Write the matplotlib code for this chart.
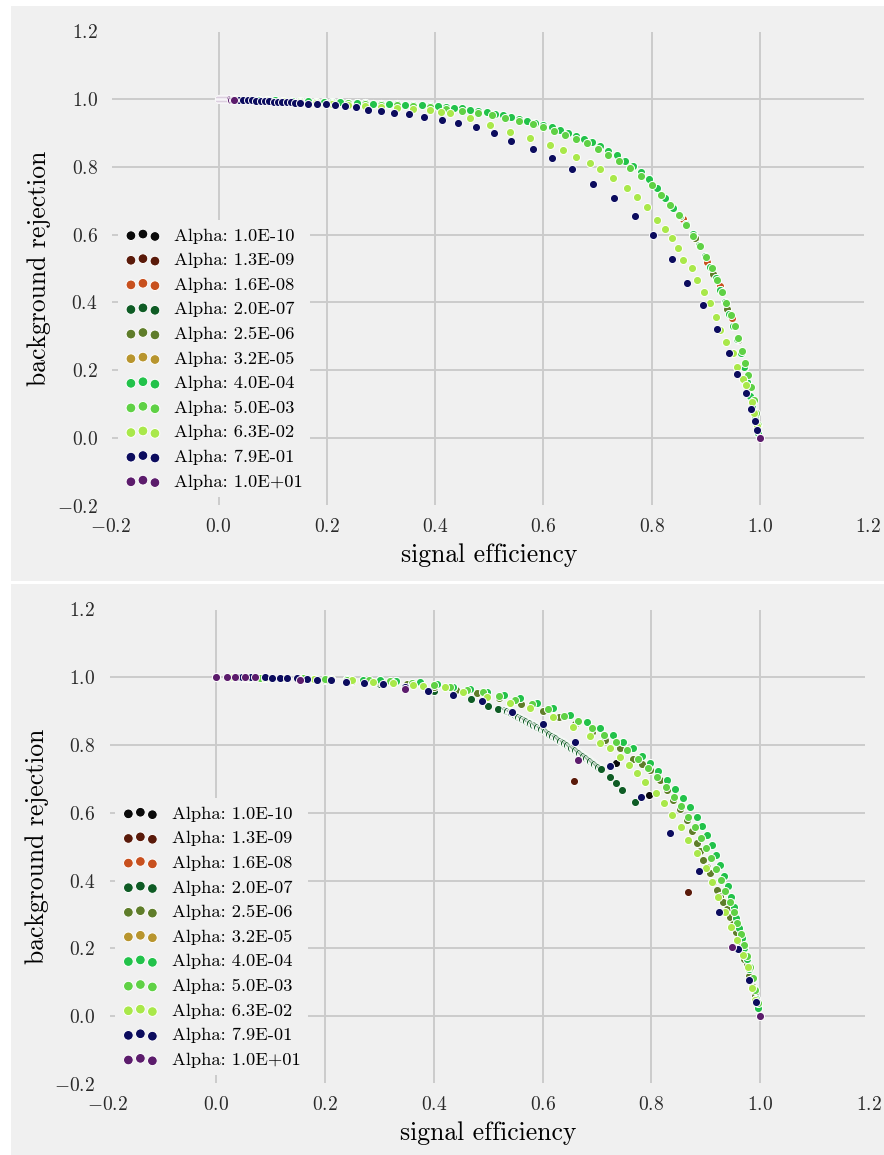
import matplotlib
matplotlib.use("Agg")
import matplotlib.pyplot as plt
from matplotlib.patches import Rectangle

plt.rcParams['font.family'] = ['cmr10', 'DejaVu Serif']
plt.rcParams['mathtext.fontset'] = 'cm'
plt.rcParams['axes.formatter.use_mathtext'] = True

# ---------------- data ----------------
alpha_labels = ["Alpha: 1.0E-10", "Alpha: 1.3E-09", "Alpha: 1.6E-08", "Alpha: 2.0E-07",
                "Alpha: 2.5E-06", "Alpha: 3.2E-05", "Alpha: 4.0E-04", "Alpha: 5.0E-03",
                "Alpha: 6.3E-02", "Alpha: 7.9E-01", "Alpha: 1.0E+01"]
alpha_colors = ["#0b0b0b", "#5a1a0a", "#c8501e", "#0f5c25", "#5f7d2a", "#b8952e",
                "#22c24a", "#5fd145", "#a9e84a", "#0c0c5e", "#5c1c6c"]
tick_vals = [-0.2, 0.0, 0.2, 0.4, 0.6, 0.8, 1.0, 1.2]
grid_vals = [0.0, 0.2, 0.4, 0.6, 0.8, 1.0]

# ---- top panel ----
top_outer_x = [0.000, 0.015, 0.030, 0.045, 0.060, 0.075, 0.090, 0.105, 0.120, 0.135, 0.150, 0.165,
               0.180, 0.195, 0.210, 0.225, 0.240, 0.255, 0.270, 0.285, 0.300, 0.315, 0.330, 0.345,
               0.360, 0.375, 0.390, 0.405, 0.420, 0.435, 0.450, 0.465, 0.480, 0.495, 0.510, 0.525,
               0.540, 0.555, 0.570, 0.585, 0.600, 0.615, 0.630, 0.645, 0.660, 0.675, 0.690, 0.705,
               0.720, 0.735, 0.750, 0.765, 0.780, 0.795, 0.810, 0.825, 0.840, 0.852, 0.864, 0.876,
               0.888, 0.898, 0.908, 0.918, 0.927, 0.935, 0.943, 0.950, 0.957, 0.964, 0.970, 0.976,
               0.981, 0.986, 0.990, 0.994, 0.997, 1.000]
top_outer_y = [1.000, 0.999, 0.999, 0.998, 0.998, 0.997, 0.996, 0.996, 0.995, 0.994, 0.994, 0.993,
               0.992, 0.992, 0.991, 0.990, 0.989, 0.988, 0.987, 0.986, 0.986, 0.985, 0.984, 0.983,
               0.982, 0.981, 0.980, 0.978, 0.976, 0.974, 0.972, 0.969, 0.965, 0.961, 0.957, 0.952,
               0.947, 0.942, 0.936, 0.930, 0.923, 0.916, 0.908, 0.900, 0.892, 0.883, 0.872, 0.861,
               0.848, 0.835, 0.818, 0.801, 0.784, 0.764, 0.738, 0.708, 0.678, 0.655, 0.630, 0.601,
               0.570, 0.538, 0.505, 0.472, 0.436, 0.400, 0.365, 0.330, 0.292, 0.250, 0.210, 0.165,
               0.125, 0.090, 0.060, 0.035, 0.015, 0.000]
top_orange_x = [0.858, 0.8795, 0.9015, 0.926, 0.948]
top_orange_y = [0.646, 0.590, 0.520, 0.448, 0.355]
top_olive_x = [0.840, 0.880, 0.9126, 0.9396, 0.960]
top_olive_y = [0.680, 0.590, 0.484, 0.380, 0.290]
top_g5_x = [0.000, 0.030, 0.060, 0.090, 0.120, 0.150, 0.180, 0.210, 0.240, 0.270, 0.300, 0.330,
            0.360, 0.390, 0.420, 0.450, 0.480, 0.505, 0.530, 0.555, 0.580, 0.600, 0.620, 0.640,
            0.660, 0.680, 0.700, 0.720, 0.740, 0.760, 0.780, 0.800, 0.818, 0.834, 0.850, 0.864,
            0.877, 0.889, 0.900, 0.911, 0.921, 0.930, 0.938, 0.946, 0.953, 0.960, 0.966, 0.972,
            0.978, 0.983, 0.988, 0.992, 0.996, 1.000]
top_g5_y = [1.000, 0.999, 0.998, 0.996, 0.995, 0.993, 0.991, 0.989, 0.987, 0.985, 0.983, 0.981,
            0.978, 0.975, 0.971, 0.966, 0.959, 0.952, 0.944, 0.935, 0.925, 0.916, 0.906, 0.895,
            0.883, 0.869, 0.853, 0.836, 0.817, 0.796, 0.773, 0.745, 0.716, 0.688, 0.658, 0.628,
            0.597, 0.565, 0.533, 0.500, 0.466, 0.432, 0.398, 0.363, 0.330, 0.294, 0.258, 0.222,
            0.185, 0.150, 0.112, 0.075, 0.038, 0.000]
top_g6_x = [0.000, 0.030, 0.060, 0.090, 0.120, 0.150, 0.180, 0.210, 0.240, 0.270, 0.300, 0.330,
            0.360, 0.390, 0.410, 0.428, 0.464, 0.501, 0.538, 0.575, 0.612, 0.637, 0.661, 0.686,
            0.705, 0.729, 0.754, 0.772, 0.791, 0.809, 0.825, 0.837, 0.849, 0.858, 0.874, 0.883,
            0.897, 0.908, 0.919, 0.927, 0.937, 0.950, 0.957, 0.968, 0.975, 0.985, 0.989, 0.994, 1.000]
top_g6_y = [1.000, 0.999, 0.998, 0.996, 0.993, 0.990, 0.988, 0.985, 0.982, 0.979, 0.976, 0.973,
            0.970, 0.968, 0.963, 0.958, 0.943, 0.923, 0.904, 0.884, 0.864, 0.850, 0.830, 0.810,
            0.793, 0.766, 0.737, 0.712, 0.682, 0.643, 0.616, 0.589, 0.560, 0.525, 0.501, 0.466,
            0.432, 0.397, 0.356, 0.319, 0.284, 0.250, 0.210, 0.173, 0.156, 0.107, 0.073, 0.035, 0.000]
top_navy_x = [0.030, 0.038, 0.046, 0.054, 0.062, 0.070, 0.078, 0.086, 0.094, 0.102, 0.110, 0.118,
              0.126, 0.134, 0.142, 0.150, 0.166, 0.181, 0.1985, 0.215, 0.234, 0.254, 0.2755, 0.300,
              0.325, 0.352, 0.380, 0.413, 0.443, 0.4755, 0.508, 0.541, 0.580, 0.616, 0.652, 0.692,
              0.730, 0.770, 0.802, 0.837, 0.865, 0.895, 0.920, 0.942, 0.958, 0.974, 0.983, 0.991, 0.994]
top_navy_y = [0.998, 0.997, 0.997, 0.996, 0.996, 0.995, 0.995, 0.994, 0.993, 0.992, 0.992, 0.991,
              0.991, 0.990, 0.989, 0.988, 0.986, 0.986, 0.984, 0.982, 0.979, 0.975, 0.969, 0.965,
              0.959, 0.956, 0.948, 0.938, 0.930, 0.9165, 0.899, 0.877, 0.852, 0.825, 0.794, 0.750,
              0.707, 0.654, 0.598, 0.527, 0.457, 0.391, 0.322, 0.252, 0.190, 0.133, 0.085, 0.049, 0.024]
top_purple_x = [0.000, 0.002, 0.004, 0.006, 0.008, 0.010, 0.012, 0.014, 0.016, 0.018, 0.020,
                0.022, 0.024, 0.026, 0.028, 1.000]
top_purple_y = [1.000, 1.000, 1.000, 1.000, 1.000, 0.999, 0.999, 0.999, 0.999, 0.999, 0.999,
                0.999, 0.998, 0.998, 0.998, 0.000]

# ---- bottom panel ----
bot_outer_x = [0.000, 0.030, 0.060, 0.090, 0.120, 0.150, 0.180, 0.210, 0.240, 0.270, 0.300, 0.330,
               0.374, 0.405, 0.4355, 0.466, 0.497, 0.528, 0.558, 0.589, 0.619, 0.650, 0.681, 0.705,
               0.7296, 0.748, 0.766, 0.782, 0.797, 0.812, 0.828, 0.843, 0.858, 0.871, 0.883, 0.893,
               0.903, 0.911, 0.919, 0.926, 0.933, 0.940, 0.946, 0.951, 0.956, 0.961, 0.966, 0.971,
               0.976, 0.980, 0.984, 0.988, 0.992, 0.996, 1.000]
bot_outer_y = [1.000, 1.000, 0.999, 0.999, 0.998, 0.997, 0.996, 0.995, 0.994, 0.993, 0.991, 0.990,
               0.987, 0.980, 0.972, 0.965, 0.957, 0.948, 0.938, 0.924, 0.908, 0.889, 0.869, 0.850,
               0.8295, 0.810, 0.790, 0.768, 0.746, 0.722, 0.697, 0.670, 0.643, 0.616, 0.589, 0.562,
               0.535, 0.505, 0.475, 0.445, 0.414, 0.383, 0.352, 0.321, 0.290, 0.260, 0.230, 0.200,
               0.170, 0.140, 0.110, 0.080, 0.052, 0.025, 0.000]
bot_olive_x = [0.000, 0.050, 0.100, 0.150, 0.200, 0.250, 0.300, 0.350, 0.400, 0.440, 0.480, 0.520,
               0.560, 0.600, 0.630, 0.660, 0.690, 0.715, 0.742, 0.766, 0.782, 0.797, 0.8155, 0.828,
               0.840, 0.852, 0.8645, 0.874, 0.883, 0.889, 0.895, 0.9016, 0.9075, 0.914, 0.920, 0.926,
               0.932, 0.938, 0.944, 0.950, 0.956, 0.961, 0.966, 0.971, 0.975, 0.980, 0.985, 0.990,
               0.995, 1.000]
bot_olive_y = [1.000, 0.999, 0.998, 0.996, 0.993, 0.990, 0.985, 0.980, 0.972, 0.963, 0.952, 0.939,
               0.922, 0.901, 0.883, 0.862, 0.839, 0.816, 0.790, 0.760, 0.744, 0.726, 0.697, 0.668,
               0.638, 0.612, 0.579, 0.545, 0.510, 0.488, 0.461, 0.440, 0.4215, 0.396, 0.372, 0.355,
               0.338, 0.316, 0.2935, 0.271, 0.249, 0.221, 0.190, 0.170, 0.150, 0.120, 0.090, 0.060,
               0.030, 0.000]
bot_g5_x = [0.000, 0.040, 0.080, 0.120, 0.160, 0.200, 0.240, 0.280, 0.320, 0.360, 0.400, 0.430,
            0.460, 0.490, 0.520, 0.550, 0.580, 0.610, 0.640, 0.665, 0.690, 0.712, 0.734, 0.755,
            0.775, 0.793, 0.810, 0.826, 0.841, 0.855, 0.868, 0.880, 0.891, 0.901, 0.910, 0.919,
            0.928, 0.936, 0.944, 0.951, 0.958, 0.964, 0.970, 0.976, 0.981, 0.986, 0.991, 0.996, 1.000]
bot_g5_y = [1.000, 1.000, 0.999, 0.998, 0.997, 0.995, 0.993, 0.991, 0.988, 0.984, 0.978, 0.971,
            0.963, 0.955, 0.945, 0.934, 0.921, 0.905, 0.887, 0.870, 0.850, 0.830, 0.808, 0.784,
            0.758, 0.732, 0.705, 0.677, 0.648, 0.619, 0.589, 0.558, 0.527, 0.496, 0.466, 0.434,
            0.402, 0.370, 0.338, 0.306, 0.274, 0.242, 0.210, 0.178, 0.146, 0.113, 0.078, 0.040, 0.000]
bot_g6_x = [0.000, 0.030, 0.060, 0.090, 0.120, 0.150, 0.180, 0.210, 0.249, 0.288, 0.325, 0.362,
            0.380, 0.420, 0.454, 0.497, 0.540, 0.5765, 0.619, 0.656, 0.687, 0.705, 0.7235, 0.742,
            0.758, 0.774, 0.789, 0.808, 0.823, 0.838, 0.854, 0.8675, 0.883, 0.900, 0.9105, 0.9226,
            0.935, 0.947, 0.958, 0.9686, 0.978, 0.985, 0.991, 1.000]
bot_g6_y = [1.000, 1.000, 0.999, 0.999, 0.998, 0.998, 0.996, 0.995, 0.992, 0.987, 0.984, 0.978,
            0.973, 0.970, 0.957, 0.9425, 0.923, 0.908, 0.8835, 0.854, 0.8266, 0.807, 0.790, 0.765,
            0.741, 0.7165, 0.690, 0.657, 0.628, 0.593, 0.559, 0.520, 0.4805, 0.436, 0.397, 0.3525,
            0.308, 0.264, 0.225, 0.1805, 0.146, 0.082, 0.048, 0.000]
bot_dkgreen_x = [0.000, 0.100, 0.200, 0.300, 0.400, 0.469, 0.500, 0.518,
                 0.5300, 0.5325, 0.5350, 0.5375, 0.5400, 0.5425, 0.5450, 0.5475, 0.5500, 0.5525,
                 0.5550, 0.5575, 0.5600, 0.5625, 0.5650, 0.5675, 0.5700, 0.5725, 0.5750, 0.5775,
                 0.5800, 0.5825, 0.5850, 0.5875, 0.5900, 0.5925, 0.5950, 0.5975, 0.6000, 0.6025,
                 0.6050, 0.6075, 0.6100, 0.6125, 0.6150, 0.6175, 0.6200, 0.6225, 0.6250, 0.6275,
                 0.6300, 0.6325, 0.6350, 0.6375, 0.6400, 0.6425, 0.6450, 0.6475, 0.6500, 0.6525,
                 0.6550, 0.6575, 0.6600, 0.6625, 0.6650, 0.6675, 0.6700, 0.6725, 0.6750, 0.6775,
                 0.6800, 0.6825, 0.6850, 0.6875, 0.6900, 0.6925, 0.6950, 0.6975, 0.7000, 0.7025,
                 0.7050, 0.708, 0.7235, 0.7346, 0.745, 0.7695, 1.000]
bot_dkgreen_y = [1.000, 0.998, 0.992, 0.979, 0.958, 0.935, 0.915, 0.905,
                 0.902, 0.900, 0.899, 0.897, 0.896, 0.894, 0.892, 0.890, 0.888, 0.885,
                 0.883, 0.881, 0.879, 0.877, 0.875, 0.873, 0.871, 0.868, 0.866, 0.864,
                 0.862, 0.860, 0.858, 0.856, 0.854, 0.851, 0.849, 0.847, 0.845, 0.843,
                 0.840, 0.838, 0.835, 0.833, 0.830, 0.828, 0.825, 0.823, 0.820, 0.818,
                 0.815, 0.813, 0.810, 0.808, 0.805, 0.803, 0.800, 0.798, 0.795, 0.792,
                 0.790, 0.787, 0.784, 0.781, 0.779, 0.776, 0.773, 0.770, 0.768, 0.765,
                 0.762, 0.759, 0.756, 0.753, 0.750, 0.747, 0.744, 0.741, 0.738, 0.735,
                 0.732, 0.728, 0.705, 0.689, 0.667, 0.632, 0.000]
bot_black_x = [0.000, 0.7346, 0.7946, 1.000]
bot_black_y = [1.000, 0.746, 0.6516, 0.000]
bot_brown_x = [0.000, 0.657, 0.8675, 1.000]
bot_brown_y = [1.000, 0.695, 0.3655, 0.000]
bot_navy_x = [0.040, 0.048, 0.056, 0.064, 0.089, 0.1015, 0.117, 0.130, 0.1476, 0.166, 0.1855,
              0.2107, 0.2377, 0.2719, 0.3057, 0.3467, 0.3895, 0.4355, 0.4877, 0.543, 0.601, 0.659,
              0.7235, 0.780, 0.835, 0.887, 0.925, 0.959, 0.9796, 0.993]
bot_navy_y = [1.000, 1.000, 1.000, 1.000, 0.9995, 0.998, 0.998, 0.997, 0.998, 0.995, 0.992,
              0.992, 0.987, 0.984, 0.979, 0.972, 0.960, 0.9475, 0.930, 0.898, 0.861, 0.809,
              0.738, 0.647, 0.540, 0.427, 0.308, 0.198, 0.107, 0.041]
bot_purple_x = [0.000, 0.020, 0.034, 0.052, 0.071, 0.1537, 0.3467, 0.665, 0.949, 1.000]
bot_purple_y = [1.000, 1.000, 1.000, 1.000, 1.000, 0.9918, 0.965, 0.756, 0.205, 0.000]

top_series = [
    (top_outer_x, top_outer_y), (top_outer_x, top_outer_y), (top_orange_x, top_orange_y),
    (top_outer_x, top_outer_y), (top_olive_x, top_olive_y), (top_outer_x, top_outer_y),
    (top_outer_x, top_outer_y), (top_g5_x, top_g5_y), (top_g6_x, top_g6_y),
    (top_navy_x, top_navy_y), (top_purple_x, top_purple_y)]
bot_series = [
    (bot_black_x, bot_black_y), (bot_brown_x, bot_brown_y), (bot_outer_x, bot_outer_y),
    (bot_dkgreen_x, bot_dkgreen_y), (bot_olive_x, bot_olive_y), (bot_outer_x, bot_outer_y),
    (bot_outer_x, bot_outer_y), (bot_g5_x, bot_g5_y), (bot_g6_x, bot_g6_y),
    (bot_navy_x, bot_navy_y), (bot_purple_x, bot_purple_y)]

# ---------------- figure ----------------
W, H = 884, 1155
fig = plt.figure(figsize=(W / 100, H / 100), dpi=100, facecolor="white")
BG = "#f0f0f0"
fig.add_artist(Rectangle((11 / W, 1 - 581 / H), (W - 11) / W, 575 / H,
                         transform=fig.transFigure, facecolor=BG, edgecolor="none", zorder=-5))
fig.add_artist(Rectangle((11 / W, 0), (W - 11) / W, 1 - 584 / H,
                         transform=fig.transFigure, facecolor=BG, edgecolor="none", zorder=-5))

ax_top = fig.add_axes([110.2 / W, 1 - 505.8 / H, 758.1 / W, 474.6 / H])
ax_bot = fig.add_axes([107.6 / W, 1 - 1084 / H, 761.4 / W, 474.6 / H])

for ax, series in ((ax_top, top_series), (ax_bot, bot_series)):
    ax.set_facecolor(BG)
    # grid (lines lying on the axis limits are not drawn in the reference)
    for v in grid_vals:
        ax.axvline(v, ymin=0.004, ymax=0.996, color="#cbcbcb", linewidth=1.4, zorder=0)
        ax.axhline(v, xmin=0.004, xmax=0.993, color="#cbcbcb", linewidth=1.4, zorder=0)
    for (xs, ys), lab, col in zip(series, alpha_labels, alpha_colors):
        ax.scatter(xs, ys, s=34, c=col, edgecolors="white", linewidths=0.7,
                   label=lab, zorder=3)
    ax.set_xlim(-0.2, 1.2)
    ax.set_ylim(-0.2, 1.2)
    ax.set_xticks(tick_vals)
    ax.set_yticks(tick_vals)
    ax.grid(False)
    for sp in ax.spines.values():
        sp.set_visible(False)
    ax.tick_params(length=0, labelsize=14, labelcolor="#2a2a2a")
    ax.tick_params(axis="x", pad=9)
    ax.tick_params(axis="y", pad=9)
    ax.set_xlabel("signal efficiency", fontsize=18.5, labelpad=5)
    ax.set_ylabel("background rejection", fontsize=18.5, labelpad=4)
    leg = ax.legend(loc="lower left", bbox_to_anchor=(0.0103, 0.0185), borderaxespad=0,
                    scatterpoints=3, markerscale=1.2, frameon=True, facecolor=BG,
                    edgecolor=BG, framealpha=1, fontsize=13.3, labelspacing=0.47,
                    handlelength=1.9, handletextpad=0.75, borderpad=0.4)
    leg.get_frame().set_linewidth(0)
    leg.set_zorder(5)

fig.savefig("out.png", dpi=100, facecolor="white")
